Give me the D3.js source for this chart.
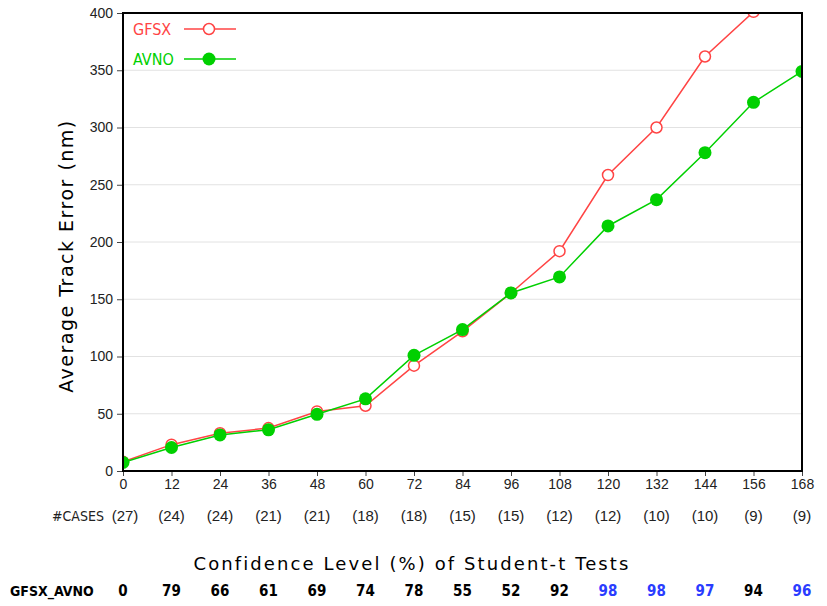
<!DOCTYPE html>
<html><head><meta charset="utf-8">
<script src="https://cdn.jsdelivr.net/npm/d3@7"></script>
<style>body{margin:0;background:#fff}</style>
</head><body>
<svg id="c" width="827" height="606"></svg>
<script>
const hours = [0,12,24,36,48,60,72,84,96,108,120,132,144,156,168];
const gfsx = [8,23,33,37.5,52,57,92,122,155.5,192,258.5,300,362,401,450];
const avno = [7.5,20.5,31.5,36,49.5,63,101,123.5,155.5,169.5,214,237,278,322,349];
const cases = ["(27)","(24)","(24)","(21)","(21)","(18)","(18)","(15)","(15)","(12)","(12)","(10)","(10)","(9)","(9)"];
const confidence = [0,79,66,61,69,74,78,55,52,92,98,98,97,94,96];
const yTicks = [0,50,100,150,200,250,300,350,400];

const svg = d3.select("#c");
const L=123,R=802,T=13,B=471;
const x = d3.scaleLinear().domain([0,168]).range([L,R]);
const y = d3.scaleLinear().domain([0,400]).range([B,T]);
const red="#ff4444", green="#00d000", blue="#2a3cff";
const tickFont="'Liberation Sans', Arial, sans-serif";
const narrow="'DejaVu Sans Condensed','Liberation Sans Narrow',sans-serif";

// grid
svg.append("g").selectAll("line").data(yTicks.filter(d=>d>0&&d<400)).join("line")
  .attr("x1",L).attr("x2",R).attr("y1",d=>y(d)).attr("y2",d=>y(d))
  .attr("stroke","#e2e2e2").attr("stroke-width",1);

// axes
const ya = svg.append("g").attr("transform",`translate(${L},0)`)
  .call(d3.axisLeft(y).tickValues(yTicks).tickSize(6).tickPadding(4));
ya.select(".domain").remove();
ya.selectAll("text").attr("font-family",tickFont).attr("font-size",14).attr("fill","#222");
ya.selectAll("line").attr("stroke","#444");
const xa = svg.append("g").attr("transform",`translate(0,${B})`)
  .call(d3.axisBottom(x).tickValues(hours).tickSize(5).tickPadding(3));
xa.select(".domain").remove();
xa.selectAll("text").attr("font-family",tickFont).attr("font-size",14).attr("fill","#222");
xa.selectAll("line").attr("stroke","#444");

// clip
svg.append("clipPath").attr("id","clip").append("rect").attr("x",L).attr("y",T).attr("width",R-L).attr("height",B-T);
const g = svg.append("g").attr("clip-path","url(#clip)");
const line = d3.line().x((d,i)=>x(hours[i])).y(d=>y(d));
g.append("path").datum(gfsx).attr("d",line).attr("fill","none").attr("stroke",red).attr("stroke-width",1.5);
g.selectAll(".gc").data(gfsx).join("circle").attr("cx",(d,i)=>x(hours[i])).attr("cy",d=>y(d)).attr("r",5.5)
  .attr("fill","#fff").attr("stroke",red).attr("stroke-width",1.5);
g.append("path").datum(avno).attr("d",line).attr("fill","none").attr("stroke",green).attr("stroke-width",1.5);
g.selectAll(".ac").data(avno).join("circle").attr("cx",(d,i)=>x(hours[i])).attr("cy",d=>y(d)).attr("r",6.5)
  .attr("fill",green);

// frame
svg.append("rect").attr("x",L).attr("y",T).attr("width",R-L).attr("height",B-T)
  .attr("fill","none").attr("stroke","#000").attr("stroke-width",2);

// legend
const leg=[["GFSX",red,false,29],["AVNO",green,true,59]];
leg.forEach(([t,c,f,yy])=>{
  svg.append("text").attr("x",133).attr("y",yy+6).text(t).attr("fill",c)
    .attr("font-family",narrow).attr("font-size",16);
  svg.append("line").attr("x1",184).attr("x2",236).attr("y1",yy).attr("y2",yy).attr("stroke",c).attr("stroke-width",1.5);
  svg.append("circle").attr("cx",209).attr("cy",yy).attr("r",f?6.5:5.5).attr("fill",f?c:"#fff")
    .attr("stroke",f?"none":c).attr("stroke-width",1.5);
});

// y title
svg.append("text").attr("transform","translate(73,256) rotate(-90)").attr("text-anchor","middle")
  .attr("font-family","'DejaVu Sans',sans-serif").attr("font-size",19).attr("letter-spacing",1.5)
  .text("Average Track Error (nm)");

// cases row
svg.append("text").attr("x",52).attr("y",521).text("#CASES")
  .attr("font-family",narrow).attr("font-size",14).attr("fill","#222");
svg.append("g").selectAll("text").data(cases).join("text")
  .attr("x",(d,i)=>x(hours[i])+(i===0?2:0)).attr("y",521).attr("text-anchor","middle").text(d=>d)
  .attr("font-family",tickFont).attr("font-size",15).attr("fill","#222");

// confidence title
svg.append("text").attr("x",412).attr("y",570).attr("text-anchor","middle")
  .attr("font-family","'DejaVu Sans',sans-serif").attr("font-size",18).attr("letter-spacing",2.1)
  .text("Confidence Level (%) of Student-t Tests");
svg.append("text").attr("x",10).attr("y",596).text("GFSX_AVNO")
  .attr("font-family",narrow).attr("font-weight","bold").attr("font-size",14);
svg.append("g").selectAll("text").data(confidence).join("text")
  .attr("x",(d,i)=>x(hours[i])).attr("y",596).attr("text-anchor","middle").text(d=>d)
  .attr("font-family",narrow).attr("font-weight","bold").attr("font-size",15)
  .attr("fill",d=>d>=95?blue:"#000");
</script>
</body></html>
